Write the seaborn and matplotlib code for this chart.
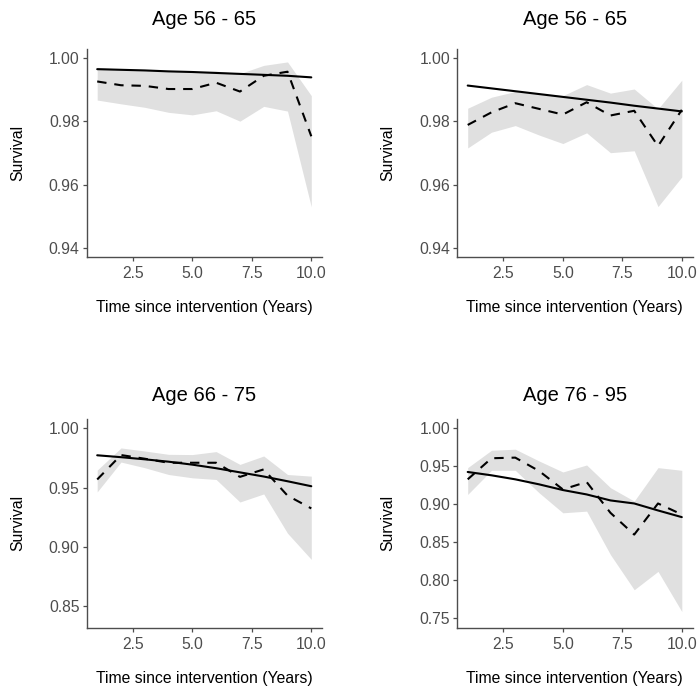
import matplotlib
matplotlib.use("Agg")
import matplotlib.pyplot as plt
import seaborn as sns

# data
years = [1, 2, 3, 4, 5, 6, 7, 8, 9, 10]
titles = ["Age 56 - 65", "Age 56 - 65", "Age 66 - 75", "Age 76 - 95"]

# panel 1 (top left)
p1_fit = [0.9966, 0.9964, 0.9962, 0.9959, 0.9957, 0.9954, 0.9951, 0.9948, 0.9945, 0.9940]
p1_obs = [0.9927, 0.9915, 0.9913, 0.9903, 0.9903, 0.9923, 0.9895, 0.9945, 0.9958, 0.9753]
p1_lo = [0.9868, 0.9856, 0.9845, 0.9829, 0.9821, 0.9834, 0.9801, 0.9848, 0.9833, 0.9529]
p1_hi = [0.9972, 0.9966, 0.9962, 0.9960, 0.9958, 0.9960, 0.9952, 0.9978, 0.9989, 0.9882]

# panel 2 (top right)
p2_fit = [0.9914, 0.9905, 0.9896, 0.9887, 0.9878, 0.9869, 0.9860, 0.9850, 0.9841, 0.9832]
p2_obs = [0.9789, 0.9829, 0.9858, 0.9840, 0.9822, 0.9861, 0.9819, 0.9834, 0.9722, 0.9837]
p2_lo = [0.9716, 0.9766, 0.9787, 0.9757, 0.9730, 0.9764, 0.9701, 0.9707, 0.9530, 0.9624]
p2_hi = [0.9842, 0.9877, 0.9895, 0.9888, 0.9882, 0.9917, 0.9890, 0.9903, 0.9840, 0.9931]

# panel 3 (bottom left)
p3_fit = [0.9774, 0.9758, 0.9740, 0.9720, 0.9695, 0.9665, 0.9630, 0.9595, 0.9555, 0.9513]
p3_obs = [0.9570, 0.9776, 0.9745, 0.9711, 0.9711, 0.9711, 0.9592, 0.9655, 0.9434, 0.9326]
p3_lo = [0.9465, 0.9717, 0.9669, 0.9612, 0.9584, 0.9570, 0.9380, 0.9448, 0.9117, 0.8896]
p3_hi = [0.9649, 0.9836, 0.9810, 0.9782, 0.9780, 0.9805, 0.9697, 0.9768, 0.9612, 0.9598]

# panel 4 (bottom right)
p4_fit = [0.9427, 0.9383, 0.9330, 0.9264, 0.9189, 0.9131, 0.9052, 0.9012, 0.8920, 0.8832]
p4_obs = [0.9330, 0.9608, 0.9616, 0.9440, 0.9197, 0.9295, 0.8889, 0.8602, 0.9012, 0.8867]
p4_lo = [0.9131, 0.9449, 0.9449, 0.9153, 0.8889, 0.8911, 0.8338, 0.7875, 0.8117, 0.7588]
p4_hi = [0.9484, 0.9713, 0.9727, 0.9572, 0.9427, 0.9519, 0.9220, 0.9043, 0.9484, 0.9449]

panels = [
    (p1_fit, p1_obs, p1_lo, p1_hi, [0.94, 0.96, 0.98, 1.00], (0.937, 1.003)),
    (p2_fit, p2_obs, p2_lo, p2_hi, [0.94, 0.96, 0.98, 1.00], (0.937, 1.003)),
    (p3_fit, p3_obs, p3_lo, p3_hi, [0.85, 0.90, 0.95, 1.00], (0.832, 1.008)),
    (p4_fit, p4_obs, p4_lo, p4_hi, [0.75, 0.80, 0.85, 0.90, 0.95, 1.00], (0.7375, 1.0125)),
]

sns.set_theme(style="ticks")
plt.rcParams["font.family"] = ["Liberation Sans", "DejaVu Sans"]

fig = plt.figure(figsize=(7, 6.91), dpi=100)
W, H = 700, 691
boxes = [(86.5, 49, 257), (457, 49, 257), (86.5, 419, 627.7), (457, 419, 627.7)]
title_pads = [17, 17, 13, 13]

for i, (fit, obs, lo, hi, yticks, ylim) in enumerate(panels):
    left, top, bottom = boxes[i]
    ax = fig.add_axes([left / W, (H - bottom) / H, 235.5 / W, (bottom - top) / H])
    ax.fill_between(years, lo, hi, color="#e0e0e0", linewidth=0, zorder=1)
    sns.lineplot(x=years, y=obs, color="black", linestyle=(0, (4.5, 3.8)),
                 linewidth=1.5, ax=ax, zorder=3)
    sns.lineplot(x=years, y=fit, color="black", linewidth=1.5, ax=ax, zorder=4)

    ax.set_xlim(0.55, 10.45)
    ax.set_ylim(*ylim)
    ax.set_xticks([2.5, 5.0, 7.5, 10.0])
    ax.set_xticklabels(["2.5", "5.0", "7.5", "10.0"])
    ax.set_yticks(yticks)
    ax.set_yticklabels([f"{v:.2f}" for v in yticks])
    ax.tick_params(labelsize=11.3, labelcolor="#4d4d4d", color="#4d4d4d",
                   length=3, width=0.9)
    ax.tick_params(axis="x", pad=3.5)
    ax.tick_params(axis="y", pad=2)
    for side in ["top", "right"]:
        ax.spines[side].set_visible(False)
    for side in ["left", "bottom"]:
        ax.spines[side].set_color("#4d4d4d")
        ax.spines[side].set_linewidth(1.0)
    ax.set_xlabel("Time since intervention (Years)", fontsize=11.3, color="black", labelpad=14)
    ax.set_ylabel("Survival", fontsize=11.3, color="black", labelpad=17)
    ax.set_title(titles[i], fontsize=14.5, color="black", pad=title_pads[i])

fig.savefig("out.png", dpi=100)
